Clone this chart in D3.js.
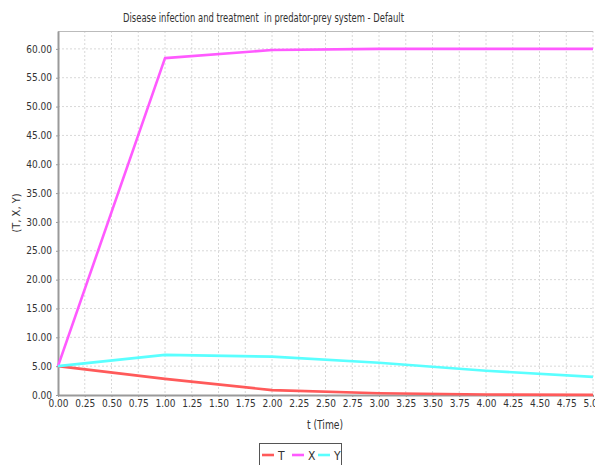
<!DOCTYPE html>
<html>
<head>
<meta charset="utf-8">
<script src="https://cdn.jsdelivr.net/npm/d3@7"></script>
<style>
  html, body { margin: 0; padding: 0; background: #fff; }
  svg { display: block; }
  text { font-family: "DejaVu Sans Condensed", "DejaVu Sans", sans-serif; fill: #333; }
</style>
</head>
<body>
<svg id="chart" width="595" height="465"></svg>
<script>
// Simulation output sampled at whole time steps
const times = [0, 1, 2, 3, 4, 5];
const seriesT = [5.0, 2.8, 0.85, 0.3, 0.08, 0.02];
const seriesX = [5.0, 58.4, 59.8, 60.0, 60.0, 60.0];
const seriesY = [5.0, 6.95, 6.65, 5.6, 4.2, 3.15];
const seriesNames = ["T", "X", "Y"];
const seriesColors = ["#ff5a5a", "#ff5aff", "#5affff"];
const xTicks = d3.range(0, 5.0001, 0.25);
const yTicks = d3.range(0, 60.0001, 5);

const svg = d3.select("#chart");
const plot = { left: 58, right: 593, top: 31, bottom: 395 };

const x = d3.scaleLinear().domain([0, 5]).range([plot.left, plot.right]);
const y = d3.scaleLinear().domain([0, 63.1]).range([plot.bottom, plot.top]);

// Title (condensed to the narrow Java dialog font width, keeping its double space)
svg.append("text")
  .attr("x", 123).attr("y", 22)
  .attr("textLength", 281).attr("lengthAdjust", "spacingAndGlyphs")
  .style("font-size", "12px")
  .style("white-space", "pre")
  .text("Disease infection and treatment  in predator-prey system - Default");

// Grid lines
const grid = svg.append("g");
grid.selectAll("line.vx").data(xTicks.slice(1)).join("line")
  .attr("x1", d => x(d)).attr("x2", d => x(d))
  .attr("y1", plot.top).attr("y2", plot.bottom)
  .attr("stroke", "#d8d8d8").attr("stroke-dasharray", "2,2");
grid.selectAll("line.hy").data(yTicks.slice(1)).join("line")
  .attr("x1", plot.left).attr("x2", plot.right)
  .attr("y1", d => y(d)).attr("y2", d => y(d))
  .attr("stroke", "#d8d8d8").attr("stroke-dasharray", "2,2");

// Plot frame top
svg.append("line")
  .attr("x1", plot.left).attr("x2", plot.right)
  .attr("y1", plot.top + 0.5).attr("y2", plot.top + 0.5)
  .attr("stroke", "#bbbbbb");

// Axes
const fmt = d3.format(".2f");
const xAxis = svg.append("g")
  .attr("transform", `translate(0,${plot.bottom})`)
  .call(d3.axisBottom(x).tickValues(xTicks).tickFormat(fmt).tickSizeInner(2).tickSizeOuter(0).tickPadding(3));
const yAxis = svg.append("g")
  .attr("transform", `translate(${plot.left},0)`)
  .call(d3.axisLeft(y).tickValues(yTicks).tickFormat(fmt).tickSizeInner(2).tickSizeOuter(0).tickPadding(4));
[xAxis, yAxis].forEach(g => {
  g.select(".domain").attr("stroke", "#9a9a9a").attr("stroke-width", 2);
  g.selectAll(".tick line").attr("stroke", "#9a9a9a");
  g.selectAll(".tick text").style("font-size", "10px").attr("fill", "#333");
});

// Axis titles
svg.append("text")
  .attr("x", 307).attr("y", 429)
  .attr("textLength", 36).attr("lengthAdjust", "spacingAndGlyphs")
  .style("font-size", "12px")
  .text("t (Time)");
svg.append("text")
  .attr("transform", "translate(20,213) rotate(-90)")
  .attr("text-anchor", "middle")
  .style("font-size", "11px")
  .text("(T, X, Y)");

// Series lines
const allSeries = [seriesT, seriesX, seriesY];
const line = d3.line().x((d, i) => x(times[i])).y(d => y(d));
svg.append("g").selectAll("path").data(allSeries).join("path")
  .attr("d", d => line(d))
  .attr("fill", "none")
  .attr("stroke", (d, i) => seriesColors[i])
  .attr("stroke-width", 2.6)
  .attr("stroke-linejoin", "round");

// Legend
const legend = svg.append("g");
legend.append("rect")
  .attr("x", 259.5).attr("y", 443.5).attr("width", 82).attr("height", 24)
  .attr("fill", "#fff").attr("stroke", "#555");
const itemX = [262, 292, 318];
seriesNames.forEach((name, i) => {
  legend.append("line")
    .attr("x1", itemX[i]).attr("x2", itemX[i] + 12)
    .attr("y1", 455).attr("y2", 455)
    .attr("stroke", seriesColors[i]).attr("stroke-width", 2.6);
  legend.append("text")
    .attr("x", itemX[i] + 16).attr("y", 459.5)
    .style("font-size", "12px")
    .text(name);
});
</script>
</body>
</html>
